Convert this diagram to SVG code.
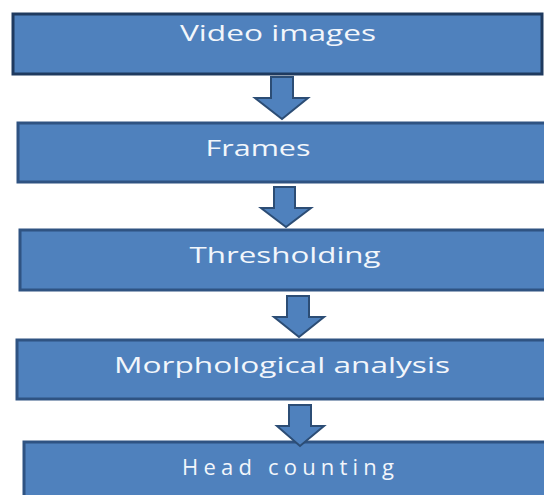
<svg xmlns="http://www.w3.org/2000/svg" width="544" height="495" viewBox="0 0 544 495">
  <style>
    .box { fill: #4F81BD; stroke: #2F5382; stroke-width: 3; }
    .box1 { stroke: #1F3A5F; }
    .lbl { font-family: "Open Sans", "Liberation Sans", sans-serif; font-size: 22px; fill: #F2F6FB; text-anchor: middle; }
    .arrow { fill: #4F81BD; stroke: #2C4D75; stroke-width: 2; stroke-linejoin: miter; }
  </style>
  <rect width="544" height="495" fill="#FFFFFF"/>

  <g id="connectors">
    <path class="arrow" d="M271,77 H293 V98 H308 L282,119 L255,98 H271 Z"/>
    <path class="arrow" d="M274,187 H295 V208 H311 L286,227 L261,208 H274 Z"/>
    <path class="arrow" d="M287,296 H309 V317 H324 L299,337 L274,317 H287 Z"/>
  </g>

  <g id="video-images">
    <rect class="box box1" x="13" y="14" width="529" height="60"/>
    <text class="lbl" x="278" y="41" textLength="196" lengthAdjust="spacingAndGlyphs">Video images</text>
  </g>
  <g id="frames">
    <rect class="box" x="18" y="123" width="530" height="59"/>
    <text class="lbl" x="258" y="156" textLength="105" lengthAdjust="spacingAndGlyphs">Frames</text>
  </g>
  <g id="thresholding">
    <rect class="box" x="20" y="230" width="530" height="60"/>
    <text class="lbl" x="285" y="263" textLength="191" lengthAdjust="spacingAndGlyphs">Thresholding</text>
  </g>
  <g id="morphological-analysis">
    <rect class="box" x="17" y="340" width="533" height="59"/>
    <text class="lbl" x="282" y="373" textLength="336" lengthAdjust="spacingAndGlyphs">Morphological analysis</text>
  </g>
  <g id="head-counting">
    <rect class="box" x="24" y="442" width="526" height="60"/>
    <text class="lbl" x="288" y="475" textLength="212" lengthAdjust="spacing">Head counting</text>
  </g>
  <g id="connector-last">
    <path class="arrow" d="M289,405 H311 V426 H324 L300,446 L277,426 H289 Z"/>
  </g>
</svg>
